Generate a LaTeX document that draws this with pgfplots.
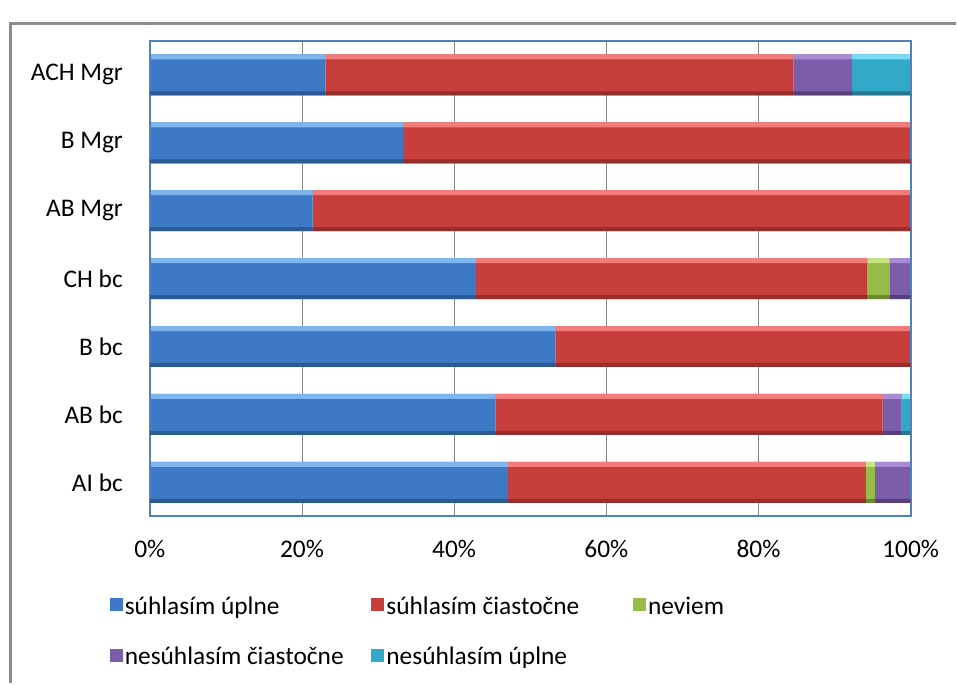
\documentclass[border=0pt]{standalone}
\usepackage{fontspec}
\setmainfont{Carlito}
\usepackage{pgfplots}
\usepackage{pgfplotstable}
\pgfplotsset{compat=1.18}

% bar colours: light top edge, body, dark bottom edge
\definecolor{blueT}{HTML}{7FB5EE}\definecolor{blueM}{HTML}{3D79C4}\definecolor{blueB}{HTML}{2B5A94}
\definecolor{redT}{HTML}{F27C79}\definecolor{redM}{HTML}{C73F3C}\definecolor{redB}{HTML}{962E2C}
\definecolor{greenT}{HTML}{C5E584}\definecolor{greenM}{HTML}{95BD48}\definecolor{greenB}{HTML}{6C8A32}
\definecolor{purpleT}{HTML}{A98BD3}\definecolor{purpleM}{HTML}{7B5DA9}\definecolor{purpleB}{HTML}{573F7C}
\definecolor{cyanT}{HTML}{78DCF3}\definecolor{cyanM}{HTML}{33A9C9}\definecolor{cyanB}{HTML}{24788F}
\definecolor{axisblue}{HTML}{4F81BD}
\definecolor{gridgray}{HTML}{8A8A8A}
\definecolor{framegray}{HTML}{8C8C8C}

\pgfplotsset{
  layers/gridbelow/.define layer set={axis background,axis grid,main,axis ticks,
    axis lines,axis tick labels,axis descriptions,axis foreground}{},
  geom/.style={set layers=gridbelow,
    at={(150bp,167bp)}, anchor=south west,
    scale only axis, width=762bp, height=476bp,
    xbar stacked, xmin=0, xmax=100, ymin=-0.5, ymax=6.5},
  seg/.style={fill=#1, draw=none},
  % legend marker: small square
  sq/.style={legend image code/.code={\path[##1] (0bp,-6.5bp) rectangle (13bp,6.5bp);}},
}

\newcommand\lentry[1]{\makebox[239bp][l]{\strut #1}}

% shares of answers (percent), one row per group
\pgfplotstableread{
pos full part dk npart nfull
0 47.1 47.0 1.2 4.7 0
1 45.4 50.9 0   2.5 1.2
2 53.3 46.7 0   0   0
3 42.9 51.4 2.9 2.9 0
4 21.4 78.6 0   0   0
5 33.3 66.7 0   0   0
6 23.1 61.5 0   7.7 7.7
}\answers

\begin{document}
\begin{tikzpicture}
\draw[color=framegray, line width=2.7bp] (10.3bp,0bp) |- (957bp,660.5bp);
% bar bodies, grid, labels, legend
\begin{axis}[
  geom, bar width=41bp,
  xtick={0,20,...,100}, xticklabels={0\%,20\%,40\%,60\%,80\%,100\%},
  ytick={0,...,6}, yticklabels={AI bc,AB bc,B bc,CH bc,AB Mgr,B Mgr,ACH Mgr},
  major tick length=0pt,
  xmajorgrids, grid style={color=gridgray, line width=0.8bp},
  axis line style={color=axisblue, line width=2bp},
  tick label style={font=\fontsize{25.5}{30}\selectfont, text=black},
  xticklabel style={yshift=-20bp},
  yticklabel style={xshift=-23.5bp},
  legend columns=3, legend cell align=left,
  legend style={draw=none, fill=none, inner sep=0pt, outer sep=0pt,
    at={(axis description cs:-0.0525,-0.1586)}, anchor=north west,
    font=\fontsize{25.5}{30}\selectfont, row sep=24bp,
    /tikz/every even column/.append style={column sep=6bp}},
]
\addplot[seg=blueM, sq] table[x=full, y=pos] {\answers};
\addlegendentry{\lentry{súhlasím úplne}}
\addplot[seg=redM, sq] table[x=part, y=pos] {\answers};
\addlegendentry{\lentry{súhlasím čiastočne}}
\addplot[seg=greenM, sq] table[x=dk, y=pos] {\answers};
\addlegendentry{\lentry{neviem}}
\addplot[seg=purpleM, sq] table[x=npart, y=pos] {\answers};
\addlegendentry{\lentry{nesúhlasím čiastočne}}
\addplot[seg=cyanM, sq] table[x=nfull, y=pos] {\answers};
\addlegendentry{\lentry{nesúhlasím úplne}}
\end{axis}
% light upper edge of each bar
\begin{axis}[geom, hide axis, bar width=5bp, bar shift=18bp]
\addplot[seg=blueT] table[x=full, y=pos] {\answers};
\addplot[seg=redT] table[x=part, y=pos] {\answers};
\addplot[seg=greenT] table[x=dk, y=pos] {\answers};
\addplot[seg=purpleT] table[x=npart, y=pos] {\answers};
\addplot[seg=cyanT] table[x=nfull, y=pos] {\answers};
\end{axis}
% dark lower edge of each bar, and the plot frame on top
\begin{axis}[geom, bar width=4bp, bar shift=-18.5bp,
  ticks=none, axis line style={color=axisblue, line width=2bp}]
\addplot[seg=blueB] table[x=full, y=pos] {\answers};
\addplot[seg=redB] table[x=part, y=pos] {\answers};
\addplot[seg=greenB] table[x=dk, y=pos] {\answers};
\addplot[seg=purpleB] table[x=npart, y=pos] {\answers};
\addplot[seg=cyanB] table[x=nfull, y=pos] {\answers};
\end{axis}
\path (0,0) rectangle (957bp,684bp);
\end{tikzpicture}
\end{document}
